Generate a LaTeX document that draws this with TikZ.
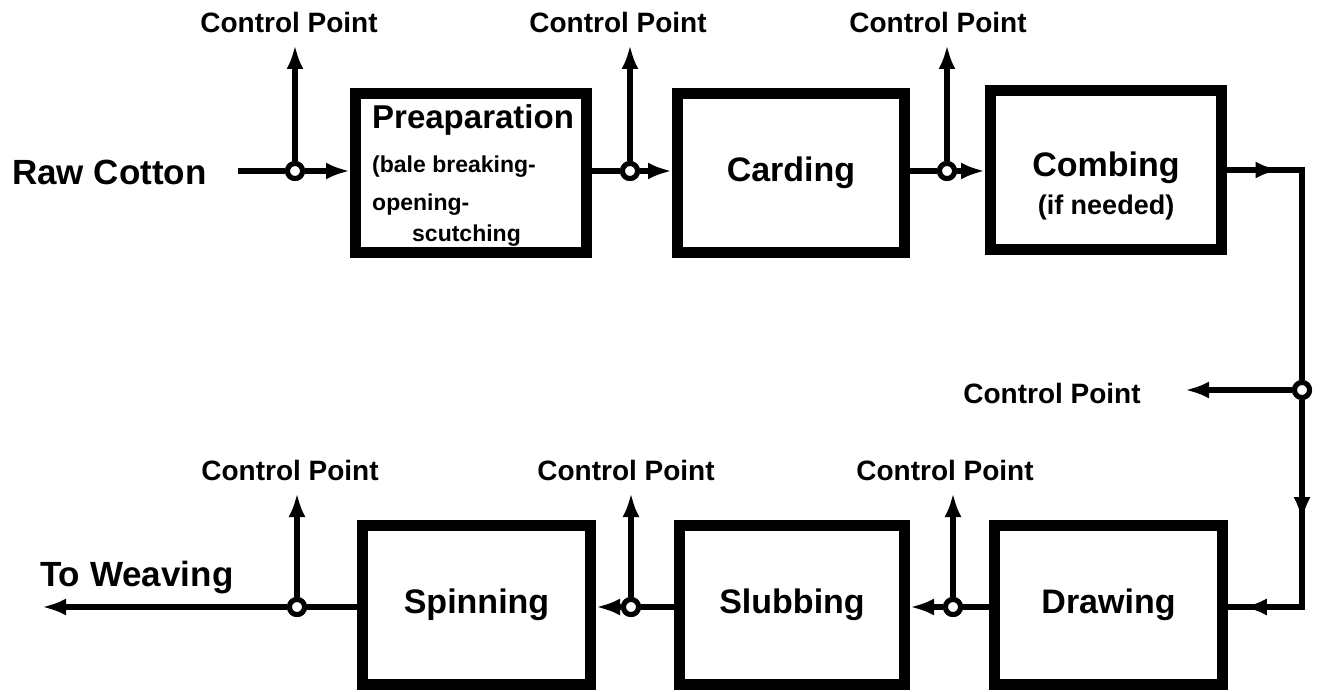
\documentclass[tikz,border=0pt]{standalone}
\usepackage{fontspec}
\setmainfont{Liberation Sans}
\usetikzlibrary{arrows.meta,decorations.markings}
\tikzset{
  stagebox/.style={draw, line width=11pt, inner sep=0pt, align=center,
    font=\fontsize{34}{40}\selectfont\bfseries},
  conn/.style={line width=6pt},
  cpnode/.style={circle, draw, fill=white, line width=5pt, minimum size=15pt, inner sep=0pt},
  tipped/.style={-{Latex[length=24pt,width=17pt]}},
  lbl/.style={font=\fontsize{28}{30}\selectfont\bfseries, inner sep=0pt},
  biglbl/.style={font=\fontsize{35}{38}\selectfont\bfseries, inner sep=0pt},
  midtip/.style={postaction={decorate}, decoration={markings,
    mark=at position #1 with {\arrow{Latex[length=24pt,width=17pt]}}}}
}
\begin{document}
\begin{tikzpicture}[x=1pt,y=-1pt]
\useasboundingbox (0,0) rectangle (1324,692);
% top row boxes
\node[stagebox, minimum width=231pt, minimum height=159pt] (prep) at (471,173) {};
\node[align=left, inner sep=0pt, anchor=north west,
      font=\fontsize{23}{36}\selectfont\bfseries] (preptxt) at (372,104)
  {{\fontsize{33}{36}\selectfont Preaparation}\\[8pt]
   (bale breaking-\\[2pt]
   opening-\\[-5pt]
   \hspace*{40pt}scutching};
\node[stagebox, minimum width=227pt, minimum height=159pt] (card) at (791,173) {Carding};
\node[stagebox, minimum width=231pt, minimum height=159pt] (comb) at (1106,170) {};
\node[align=center, inner sep=0pt, font=\fontsize{34}{40}\selectfont\bfseries] (combtxt) at (1106,186)
  {Combing\\[-2pt]{\fontsize{27}{30}\selectfont (if needed)}};
% bottom row boxes
\node[stagebox, minimum width=228pt, minimum height=159pt] (spin) at (476.5,605) {Spinning};
\node[stagebox, minimum width=225pt, minimum height=159pt] (slub) at (792,605) {Slubbing};
\node[stagebox, minimum width=228pt, minimum height=159pt] (draw) at (1108.5,605) {Drawing};

% end labels
\node[biglbl, anchor=west] (raw) at (12,172) {Raw Cotton};
\node[biglbl, anchor=west] (weave) at (40,578) {To Weaving};
\coordinate (rawstart) at (238,171);
\coordinate (weaveend) at (42,607);

% control points, top row
\node[cpnode] (c1) at (295,171) {};
\node[cpnode] (c2) at (630,171) {};
\node[cpnode] (c3) at (947,171) {};
\node[lbl] (l1) at (289,22) {Control Point};
\node[lbl] (l2) at (618,22) {Control Point};
\node[lbl] (l3) at (938,22) {Control Point};
\coordinate (t1) at (295,45);
\coordinate (t2) at (630,45);
\coordinate (t3) at (947,45);

% right side
\coordinate (rt) at (1302,170);
\coordinate (rb) at (1302,607);
\node[cpnode] (c4) at (1302,390) {};
\node[lbl] (l4) at (1052,393) {Control Point};
\coordinate (t4) at (1185,390);

% control points, bottom row
\node[cpnode] (c5) at (953,607) {};
\node[cpnode] (c6) at (631,607) {};
\node[cpnode] (c7) at (297,607) {};
\node[lbl] (l5) at (945,470) {Control Point};
\node[lbl] (l6) at (626,470) {Control Point};
\node[lbl] (l7) at (290,470) {Control Point};
\coordinate (t5) at (953,493);
\coordinate (t6) at (631,493);
\coordinate (t7) at (297,493);

% top row flow
\draw[conn] (rawstart) -- (c1);
\draw[conn,tipped] (c1) -- (prep.west |- c1);
\draw[conn] (prep.east |- c2) -- (c2);
\draw[conn,tipped] (c2) -- (card.west |- c2);
\draw[conn] (card.east |- c3) -- (c3);
\draw[conn,tipped] (c3) -- (comb.west |- c3);
\draw[conn,tipped] (c1) -- (t1);
\draw[conn,tipped] (c2) -- (t2);
\draw[conn,tipped] (c3) -- (t3);

% right side flow
\draw[conn, midtip=0.7] (comb.east |- rt) -- (rt);
\draw[conn, line join=miter] (comb.east |- rt) -- (rt) -- (c4);
\draw[conn, midtip=0.585] (c4) -- (rb);
\draw[conn, line join=miter] (c4) -- (rb) -- (draw.east |- rb);
\draw[conn, midtip=0.8] (rb) -- (draw.east |- rb);
\draw[conn,tipped] (c4) -- (t4);

% bottom row flow
\draw[conn] (draw.west |- c5) -- (c5);
\draw[conn,tipped] (c5) -- (slub.east |- c5);
\draw[conn] (slub.west |- c6) -- (c6);
\draw[conn,tipped] (c6) -- (spin.east |- c6);
\draw[conn] (spin.west |- c7) -- (c7);
\draw[conn,tipped] (c7) -- (weaveend);
\draw[conn,tipped] (c5) -- (t5);
\draw[conn,tipped] (c6) -- (t6);
\draw[conn,tipped] (c7) -- (t7);

% redraw circles on top
\foreach \c in {c1,c2,c3,c4,c5,c6,c7}
  \node[cpnode] at (\c) {};
\end{tikzpicture}
\end{document}
